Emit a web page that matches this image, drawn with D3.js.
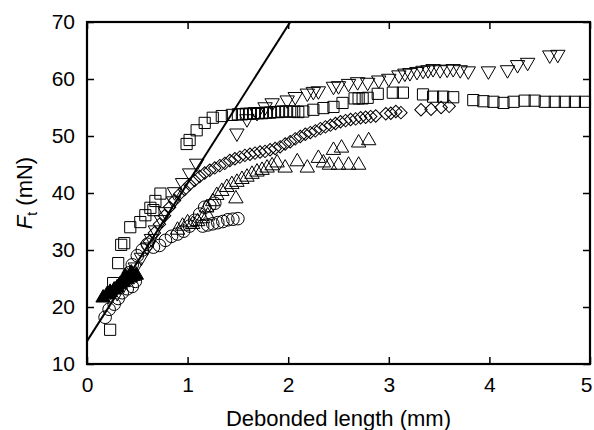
<!DOCTYPE html>
<html lang="en">
  <head>
    <meta charset="utf-8">
    <title>Ft vs debonded length</title>
    <style>
      body { margin: 0; background: #fff; }
      text { font-family: "Liberation Sans", Arial, sans-serif; fill: #000; }
      .marks path { fill: none; stroke: #000; stroke-width: 1; }
      .marks path.filled { fill: #000; }
    </style>
  </head>
  <body>
    <svg width="594" height="430"></svg>
  </body>
  <script src="https://d3js.org/d3.v7.min.js"></script>
  <script>
  // tick values
  var xTicks = [0, 1, 2, 3, 4, 5];
  var yTicks = [10, 20, 30, 40, 50, 60, 70];

  // fitted straight line (two end points)
  var fitLine = [[0, 14], [2.02, 70]];

  // open squares
  var squares = [
    [0.23,16],[0.26,24.2],[0.31,27.7],[0.34,30.9],[0.37,31.2],[0.43,34],[0.53,34.9],[0.58,36.1],
    [0.63,37.4],[0.66,37],[0.68,38.6],[0.73,39.9],
    [0.99,48.6],[1.02,49.3],[1.09,51],[1.17,52.3],[1.25,53.2],[1.34,53.5],[1.44,53.7],
    [1.5,53.8],[1.54,53.8],[1.58,53.9],[1.62,53.9],[1.66,54],[1.7,54],[1.74,54],[1.78,54.1],
    [1.82,54.1],[1.86,54.2],[1.9,54.2],[1.94,54.3],[1.98,54.3],[2.02,54.3],[2.06,54.3],
    [2.1,54.2],[2.15,54.3],[2.25,54.6],[2.35,54.9],[2.45,55.1],[2.54,55.8],
    [2.66,56.6],[2.7,56.6],[2.74,56.6],[2.79,56.7],[2.89,57.4],[3.04,57.6],[3.14,57.6],
    [3.34,57.3],[3.44,56.9],[3.54,56.9],[3.64,56.8],
    [3.84,56.3],[3.94,56.1],[4.04,56],[4.14,55.8],[4.24,56],[4.35,56.2],[4.45,56.2],
    [4.55,56],[4.65,56],[4.75,56],[4.85,56],[4.95,56]
  ];

  // open inverted triangles
  var invTriangles = [
    [0.3,22.5],[0.36,23.8],[0.42,25.3],[0.48,27],[0.54,28.7],[0.6,30.5],[0.64,32],[0.68,33.5],
    [0.74,35.3],[0.78,36.7],[0.86,38.6],[0.87,40.2],[0.95,41.8],[1.02,43.5],[1.09,45.2],
    [1.49,50.5],[1.59,53],[1.69,54.1],[1.77,55.1],[1.84,55.8],[1.99,56.3],[2.07,56.9],
    [2.19,57.5],[2.25,57.8],[2.3,57.9],[2.45,58.7],[2.5,58.8],[2.6,59.2],[2.69,59.5],
    [2.79,59.4],[2.9,59.8],[3.0,60.1],[3.1,60.7],[3.16,61],[3.21,61.1],[3.28,61.3],
    [3.34,61.5],[3.39,61.6],[3.44,61.8],[3.51,61.6],[3.58,61.7],[3.64,61.8],[3.71,61.6],
    [3.79,61.4],[3.99,61.4],[4.18,61.6],[4.28,62.5],[4.38,62.9],[4.6,64.2],[4.68,64.3]
  ];

  // open diamonds
  var diamonds = [
    [0.62,31.5],[0.67,33],[0.72,34.5],[0.77,36],[0.82,37.5],[0.87,38.7],[0.92,39.8],[0.97,40.6],
    [1.02,41.5],[1.07,42.2],[1.12,42.9],[1.17,43.5],[1.22,44],[1.27,44.4],[1.32,44.8],
    [1.37,45.2],[1.42,45.7],[1.47,46],[1.52,46.3],[1.57,46.6],[1.62,46.8],[1.67,47],
    [1.72,47.2],[1.77,47.3],[1.82,47.6],[1.87,47.8],[1.92,48.1],[1.97,48.6],[2.02,49],
    [2.07,49.5],[2.12,49.9],[2.17,50.3],[2.22,50.6],[2.27,50.9],[2.32,51.3],[2.37,51.6],
    [2.42,51.9],[2.47,52.2],[2.52,52.5],[2.57,52.7],[2.62,52.9],[2.67,53],[2.72,53.2],
    [2.77,53.3],[2.82,53.4],[2.87,53.5],[2.97,53.9],[3.02,54],[3.07,54.3],[3.12,54.1],
    [3.32,54.6],[3.42,54.7],[3.52,55],[3.6,55.2]
  ];

  // open triangles
  var triangles = [
    [0.9,33.5],[0.95,34.2],[1.0,34.8],[1.05,34.5],[1.1,35],[1.15,35.5],[1.2,36],[1.19,37.4],
    [1.25,38.5],[1.29,39.6],[1.34,40.3],[1.39,41],[1.44,41.5],[1.49,41.9],[1.54,42.4],
    [1.59,42.8],[1.64,43.3],[1.69,43.7],[1.74,44],[1.79,44.4],[1.84,44.8],[1.89,45.3],
    [1.48,39],[1.97,44.4],[2.09,45.5],[2.19,44.4],[2.3,46.1],[2.35,45.3],[2.41,44.9],
    [2.45,47.5],[2.53,47.9],[2.5,44.9],[2.6,44.9],[2.7,44.9],[2.7,48.8],[2.8,49.2]
  ];

  // open circles
  var circles = [
    [0.18,18.2],[0.22,19.6],[0.27,20.5],[0.31,21.5],[0.35,22.5],[0.4,23.2],[0.45,23.6],
    [0.48,24.5],[0.42,26],[0.45,27.4],[0.5,29],[0.55,30],[0.6,31],[0.66,30.5],[0.72,30.8],
    [0.78,31.7],[0.84,32.4],[0.9,32.8],[0.96,33.3],[1.02,34.2],[1.07,35.2],[1.12,36.3],
    [1.17,37.5],[1.22,37.8],[1.27,38.2],[1.15,34.2],[1.2,34.4],[1.25,34.6],[1.3,34.8],
    [1.35,35],[1.4,35.3],[1.45,35.4],[1.5,35.5]
  ];

  // filled triangles
  var filledTriangles = [
    [0.16,21.6],[0.2,22.2],[0.23,22.6],[0.27,23],[0.3,23.4],[0.33,24],[0.36,24.3],
    [0.38,25.4],[0.4,24.8],[0.43,25.1],[0.44,26],[0.46,25.4],[0.49,25.6]
  ];

  var svg = d3.select("svg"),
      margin = {top: 22, right: 4, bottom: 66, left: 87},
      width = 594 - margin.left - margin.right,
      height = 430 - margin.top - margin.bottom;

  var x = d3.scaleLinear().domain([0, 5]).range([0, width]);
  var y = d3.scaleLinear().domain([10, 70]).range([height, 0]);

  var g = svg.append("g").attr("transform", "translate(" + margin.left + "," + margin.top + ")");

  g.append("clipPath").attr("id", "clip")
    .append("rect").attr("width", width).attr("height", height);

  // axes with inward ticks on all four sides
  function styleAxis(sel) {
    sel.select(".domain").remove();
    sel.selectAll(".tick line").attr("stroke", "#000").attr("stroke-width", 1.5);
  }
  var fmt = d3.format("d");
  var xAxisG = g.append("g").attr("transform", "translate(0," + height + ")")
    .call(d3.axisBottom(x).tickValues(xTicks).tickFormat(fmt).tickSizeInner(-7).tickSizeOuter(0).tickPadding(13))
    .call(styleAxis);
  g.append("g")
    .call(d3.axisLeft(y).tickValues(yTicks).tickFormat(fmt).tickSizeInner(-7).tickSizeOuter(0).tickPadding(12))
    .call(styleAxis);
  g.append("g")
    .call(d3.axisTop(x).tickValues(xTicks).tickSizeInner(-7).tickSizeOuter(0).tickFormat(""))
    .call(styleAxis);
  g.append("g").attr("transform", "translate(" + width + ",0)")
    .call(d3.axisRight(y).tickValues(yTicks).tickSizeInner(-7).tickSizeOuter(0).tickFormat(""))
    .call(styleAxis);

  g.selectAll(".tick text").style("font-size", "21px").attr("font-family", "Liberation Sans, Arial, sans-serif");
  // last x label sits against the page edge, pull it in a little
  xAxisG.selectAll(".tick text").filter(function(d) { return d === 5; }).attr("dx", -4);

  // the fitted line
  g.append("path")
    .datum(fitLine)
    .attr("clip-path", "url(#clip)")
    .attr("fill", "none")
    .attr("stroke", "#000")
    .attr("stroke-width", 2)
    .attr("d", d3.line().x(function(d) { return x(d[0]); }).y(function(d) { return y(d[1]); }));

  // markers
  var marks = g.append("g").attr("class", "marks");
  function plot(data, type, size, rotate, filled) {
    var sym = d3.symbol().type(type).size(size);
    marks.append("g").selectAll("path").data(data).enter().append("path")
      .attr("class", filled ? "filled" : null)
      .attr("d", sym)
      .attr("transform", function(d) {
        return "translate(" + x(d[0]) + "," + y(d[1]) + ") rotate(" + rotate + ")";
      });
  }
  plot(squares, d3.symbolSquare, 125, 0, false);
  plot(invTriangles, d3.symbolTriangle, 90, 180, false);
  plot(diamonds, d3.symbolSquare, 78, 45, false);
  plot(triangles, d3.symbolTriangle, 90, 0, false);
  plot(circles, d3.symbolCircle, 125, 0, false);
  plot(filledTriangles, d3.symbolTriangle, 90, 0, true);

  // frame
  g.append("rect")
    .attr("width", width).attr("height", height)
    .attr("fill", "none").attr("stroke", "#000").attr("stroke-width", 2.2);

  // axis titles
  svg.append("text")
    .attr("x", margin.left + width / 2).attr("y", 426)
    .attr("text-anchor", "middle")
    .style("font-size", "22px")
    .text("Debonded length (mm)");

  var yl = svg.append("text")
    .attr("transform", "translate(32," + (margin.top + height / 2) + ") rotate(-90)")
    .attr("text-anchor", "middle")
    .style("font-size", "22px");
  yl.append("tspan").style("font-style", "italic").text("F");
  yl.append("tspan").attr("dy", 5).style("font-size", "14px").text("t");
  yl.append("tspan").attr("dy", -5).text(" (mN)");
  </script>
</html>
